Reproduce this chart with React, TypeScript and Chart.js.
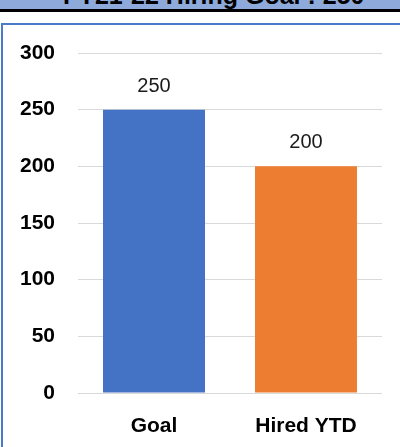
import React, { useEffect, useRef } from "react";
import { Chart, registerables } from "chart.js";

Chart.register(...registerables);

const TITLE = "FY21-22 Hiring Goal : 250";
const categories = ["Goal", "Hired YTD"];
const values = [250, 200];
const barColors = ["#4472C4", "#ED7D31"];
const yMin = 0;
const yMax = 300;
const yStep = 50;

const FONT = "'Liberation Sans', Arial, sans-serif";

// Draws each bar's value just above its top edge
const valueLabels = {
  id: "valueLabels",
  afterDatasetsDraw(chart: Chart) {
    const ctx = chart.ctx;
    const meta = chart.getDatasetMeta(0);
    ctx.save();
    ctx.font = `20px ${FONT}`;
    ctx.fillStyle = "#1a1a1a";
    ctx.textAlign = "center";
    ctx.textBaseline = "alphabetic";
    meta.data.forEach((el: any, i: number) => {
      const v = chart.data.datasets[0].data[i] as number;
      ctx.fillText(String(v), el.x, el.y - 18);
    });
    ctx.restore();
  },
};

export default function App() {
  const canvasRef = useRef<HTMLCanvasElement | null>(null);

  useEffect(() => {
    if (!canvasRef.current) return;
    const chart = new Chart(canvasRef.current, {
      type: "bar",
      data: {
        labels: categories,
        datasets: [
          {
            data: values,
            backgroundColor: barColors,
            borderWidth: 0,
            categoryPercentage: 1,
            barPercentage: 0.671,
          },
        ],
      },
      options: {
        responsive: false,
        animation: false,
        layout: { padding: { top: 53, right: 18, left: 0, bottom: 0 } },
        plugins: {
          legend: { display: false },
          tooltip: { enabled: false },
          title: { display: false },
        },
        scales: {
          x: {
            grid: { display: false, drawTicks: false },
            border: { display: false },
            ticks: {
              color: "#000",
              font: { family: FONT, size: 21, weight: "bold" },
              padding: 21,
            },
            afterFit: (s: any) => {
              s.height = 54;
            },
          },
          y: {
            min: yMin,
            max: yMax,
            grid: { color: "#D9D9D9", lineWidth: 1, drawTicks: false },
            border: { display: false },
            ticks: {
              stepSize: yStep,
              color: "#000",
              font: { family: FONT, size: 21, weight: "bold" },
              padding: 23,
            },
            afterFit: (s: any) => {
              s.width = 78;
            },
          },
        },
      },
      plugins: [valueLabels],
    });
    return () => chart.destroy();
  }, []);

  return (
    <div
      style={{
        position: "fixed",
        left: 0,
        top: 0,
        width: 400,
        height: 447,
        background: "#fff",
        overflow: "hidden",
      }}
    >
      <div
        style={{
          position: "absolute",
          left: 0,
          top: 0,
          width: 400,
          height: 9,
          background: "#8EAADB",
          overflow: "hidden",
          borderBottom: "3px solid #000",
        }}
      >
        <span
          style={{
            position: "absolute",
            left: 63,
            top: -17,
            fontFamily: FONT,
            fontWeight: "bold",
            fontSize: 25,
            lineHeight: "25px",
            whiteSpace: "nowrap",
            color: "#000",
          }}
        >
          {TITLE}
        </span>
      </div>
      <div
        style={{
          position: "absolute",
          left: 1,
          top: 23,
          width: 420,
          height: 440,
          borderTop: "2px solid #4A7BCB",
          borderLeft: "2px solid #4A7BCB",
        }}
      />
      <canvas
        ref={canvasRef}
        width={400}
        height={447}
        style={{ position: "absolute", left: 0, top: 0 }}
      />
    </div>
  );
}
